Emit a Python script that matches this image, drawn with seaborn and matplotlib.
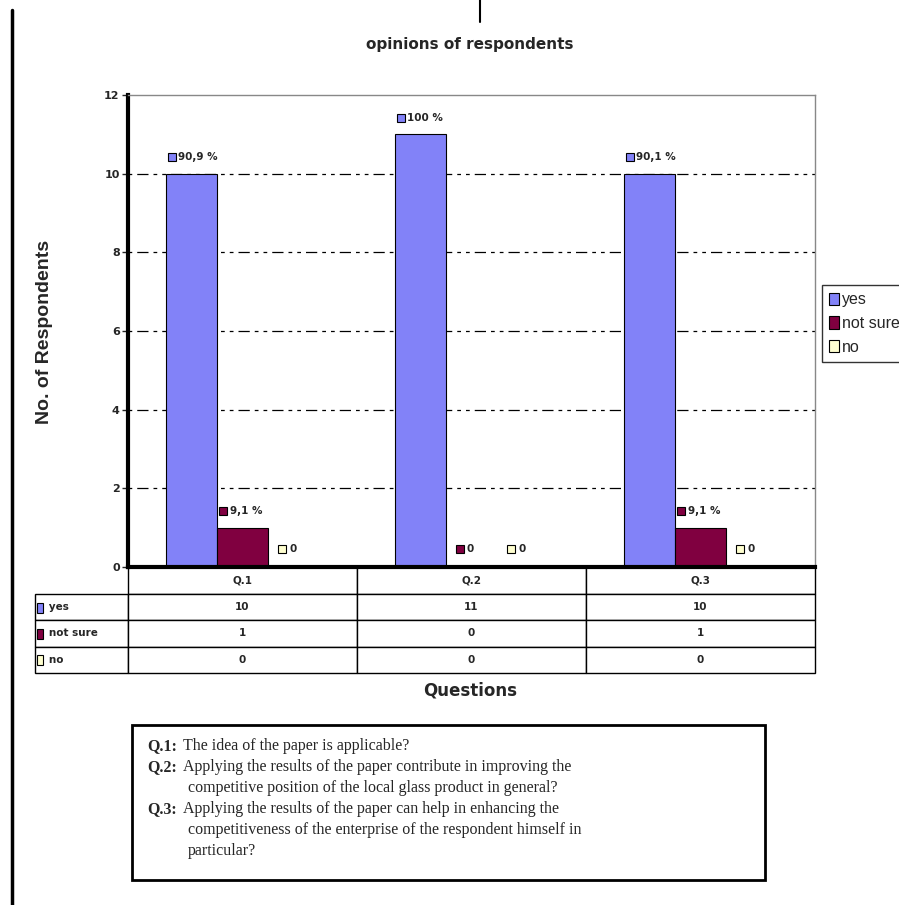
import matplotlib
matplotlib.use("Agg")
import matplotlib.pyplot as plt
from matplotlib.patches import Rectangle
from matplotlib.lines import Line2D
from matplotlib.table import Table
import seaborn as sns
import pandas as pd

# data
questions = ["Q.1", "Q.2", "Q.3"]
answers = ["yes", "not sure", "no"]
yes_counts = [10, 11, 10]
notsure_counts = [1, 0, 1]
no_counts = [0, 0, 0]
yes_pct = ["90,9 %", "100 %", "90,1 %"]
notsure_pct = ["9,1 %", "0", "9,1 %"]
no_pct = ["0", "0", "0"]
row_labels = ["yes", "not sure", "no"]
title = "opinions of respondents"
ylabel = "No. of Respondents"
xlabel = "Questions"
notes = [
    ("Q.1:", ["The idea of the paper is applicable?"]),
    ("Q.2:", ["Applying the results of the paper contribute in improving the",
              "competitive position of the local glass product in general?"]),
    ("Q.3:", ["Applying the results of the paper can help in enhancing the",
              "competitiveness of the enterprise of the respondent himself in",
              "particular?"]),
]

colors = {"yes": "#8282f8", "not sure": "#800040", "no": "#ffffd0"}

counts = [yes_counts, notsure_counts, no_counts]
pcts = [yes_pct, notsure_pct, no_pct]
df = pd.DataFrame({
    "question": questions * 3,
    "answer": [a for a in answers for _ in questions],
    "count": yes_counts + notsure_counts + no_counts,
})

sns.set_style("white")
cond = ["Liberation Sans Narrow", "DejaVu Sans"]
plt.rcParams["font.family"] = ["Liberation Sans", "DejaVu Sans"]

W, H = 899, 905
fig = plt.figure(figsize=(8.99, 9.05), dpi=100)
ax = fig.add_axes([128 / W, 1 - 567 / H, 687 / W, 472 / H])

sns.barplot(data=df, x="question", y="count", hue="answer", order=questions,
            hue_order=answers, palette=colors, width=0.67, edgecolor="black",
            linewidth=0.8, saturation=1, ax=ax, legend=False, zorder=3)

ax.set_xlim(-0.5, 2.5)
ax.set_ylim(0, 12)
ax.set_yticks(range(0, 13, 2))
ax.set_yticklabels([str(v) for v in range(0, 13, 2)], fontsize=8,
                   fontweight="bold", family=cond)
ax.tick_params(axis="y", direction="out", length=4, width=1, left=True, pad=2)
ax.set_xticks([])
ax.set_xlabel("")
ax.set_ylabel("")

for y in range(2, 12, 2):
    ax.axhline(y, color="black", lw=0.9, dashes=(3, 4, 9, 4, 3, 4), zorder=1)

for side in ["top", "right"]:
    ax.spines[side].set_color("#888888")
    ax.spines[side].set_linewidth(1)
ax.spines["left"].set_color("black")
ax.spines["left"].set_linewidth(3)
ax.spines["bottom"].set_color("black")
ax.spines["bottom"].set_linewidth(3)
ax.spines["bottom"].set_zorder(5)

# value labels with small colour keys
for cont, vals, labs, ans in zip(ax.containers, counts, pcts, answers):
    for bar, v, lab in zip(cont, vals, labs):
        if v > 0:
            x0 = bar.get_x() + 0.025
            yl = v + 0.42
        else:
            x0 = bar.get_x() + bar.get_width() / 2 - 0.05
            yl = 0.45
        ax.plot([x0], [yl], marker="s", ms=5.5, mfc=colors[ans], mec="black",
                mew=0.8, clip_on=False, zorder=6)
        ax.text(x0 + 0.03, yl, lab, fontsize=7.5, fontweight="bold",
                family=cond, va="center", ha="left", zorder=6)

# data table below the axes (bbox covers the data columns only)
lab_w = 93 / 687
tbl_h = 106 / 472
tbl = Table(ax, bbox=[0, -tbl_h, 1, tbl_h])
for j, q in enumerate(questions):
    tbl.add_cell(0, j, 1 / 3, 1, text=q, loc="center")
for i, (lab, vals) in enumerate(zip(row_labels, counts), start=1):
    tbl.add_cell(i, -1, lab_w, 1, text="   " + lab, loc="left")
    for j, v in enumerate(vals):
        tbl.add_cell(i, j, 1 / 3, 1, text=str(v), loc="center")
tbl.auto_set_font_size(False)
for (r, c), cell in tbl.get_celld().items():
    cell.set_linewidth(1)
    cell.set_edgecolor("black")
    cell.get_text().set_fontsize(7.5)
    cell.get_text().set_fontweight("bold")
    cell.get_text().set_family(cond)
    cell.PAD = 0.03
ax.add_table(tbl)

# colour keys in row labels
for i, ans in enumerate(answers):
    yc = 1 - (595 + 13 + 26 * i) / H
    fig.patches.append(Rectangle((37 / W, yc - 5 / H), 6 / W, 10 / H,
                                 transform=fig.transFigure, fc=colors[ans],
                                 ec="black", lw=0.8))

# legend (runs off the right edge like the original)
handles = [Rectangle((0, 0), 1, 1, fc=colors[a], ec="black", lw=0.8)
           for a in answers]
leg = fig.legend(handles, answers, loc="upper left",
                 bbox_to_anchor=(822 / W, 1 - 285 / H), frameon=True,
                 fancybox=False, edgecolor="black", fontsize=11.5,
                 handlelength=0.6, handleheight=0.8, handletextpad=0.2,
                 labelspacing=0.55, borderpad=0.45, borderaxespad=0)
leg.get_frame().set_linewidth(1)

# titles
fig.text(470 / W, 1 - 45 / H, title, ha="center", va="center", fontsize=11,
         fontweight="bold", family=cond)
fig.text(470 / W, 1 - 690 / H, xlabel, ha="center", va="center", fontsize=12,
         fontweight="bold", family=cond)
fig.text(45 / W, 1 - 332 / H, ylabel, ha="center", va="center", fontsize=14,
         fontweight="bold", rotation=90)

# question notes box
fig.patches.append(Rectangle((132 / W, 1 - 880 / H), 633 / W, 155 / H,
                             transform=fig.transFigure, fill=False,
                             ec="black", lw=2))
serif = ["Liberation Serif", "DejaVu Serif"]
y = 746
for pre, lines in notes:
    fig.text(147 / W, 1 - y / H, pre, ha="left", va="center", fontsize=11.5,
             fontweight="bold", family=serif)
    for k, line in enumerate(lines):
        fig.text((183 if k == 0 else 188) / W, 1 - y / H, line, ha="left",
                 va="center", fontsize=11.5, family=serif)
        y += 21

# page frame lines
fig.add_artist(Line2D([12 / W, 12 / W], [0, 1 - 10 / H], color="black",
                      lw=2.5, transform=fig.transFigure))
fig.add_artist(Line2D([480 / W, 480 / W], [1 - 22 / H, 1], color="black",
                      lw=1.5, transform=fig.transFigure))

fig.savefig("out.png", dpi=100)
